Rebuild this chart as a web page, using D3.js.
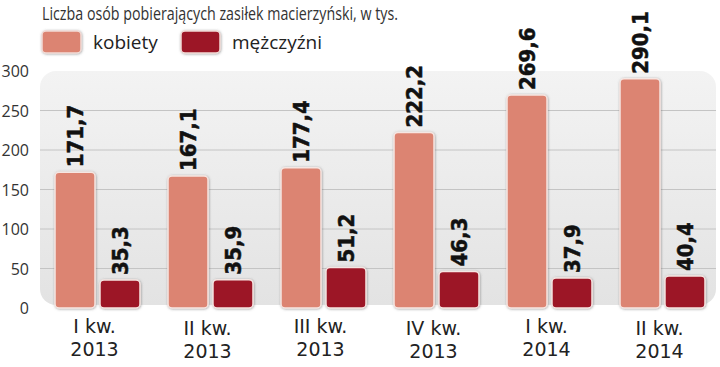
<!DOCTYPE html>
<html>
<head>
<meta charset="utf-8">
<script src="https://cdn.jsdelivr.net/npm/d3@7"></script>
<style>
  body { margin: 0; background: #fff; }
  svg { display: block; }
</style>
</head>
<body>
<div id="chart"></div>
<script>
// dane z wykresu
const quarters = [["I kw.", "2013"], ["II kw.", "2013"], ["III kw.", "2013"], ["IV kw.", "2013"], ["I kw.", "2014"], ["II kw.", "2014"]];
const kobiety = [171.7, 167.1, 177.4, 222.2, 269.6, 290.1];
const mezczyzni = [35.3, 35.9, 51.2, 46.3, 37.9, 40.4];
const yTicks = [0, 50, 100, 150, 200, 250, 300];
const seriesNames = ["kobiety", "mężczyźni"];
const colors = ["#dc8472", "#9c1527"];

const width = 720, height = 367;

const svg = d3.select("#chart").append("svg")
    .attr("width", width)
    .attr("height", height);

const defs = svg.append("defs");
const grad = defs.append("linearGradient").attr("id", "bg").attr("x1", 0).attr("y1", 0).attr("x2", 0).attr("y2", 1);
grad.append("stop").attr("offset", "0%").attr("stop-color", "#f3f3f3");
grad.append("stop").attr("offset", "100%").attr("stop-color", "#e3e3e3");

const shadow = defs.append("filter").attr("id", "sh").attr("x", "-20%").attr("y", "-20%").attr("width", "140%").attr("height", "140%");
shadow.append("feDropShadow").attr("dx", 0.5).attr("dy", 0.5).attr("stdDeviation", 0.8).attr("flood-color", "#666").attr("flood-opacity", 0.6);

const idx = quarters.map((d, i) => i);
const x = d3.scaleBand(idx, [41, 719]).paddingInner(0.248).paddingOuter(0.124);
const xs = d3.scaleBand([0, 1], [0, x.bandwidth()]).paddingInner(0.11);
const y = d3.scaleLinear([0, 300], [308, 71]);

// tło
svg.append("rect")
    .attr("x", 40).attr("y", y(300))
    .attr("width", 676).attr("height", y(0) - y(300) - 3)
    .attr("rx", 16)
    .attr("fill", "url(#bg)");

// linie siatki
svg.append("g").selectAll("line")
    .data(yTicks.filter(t => t > 0 && t < 300))
    .join("line")
    .attr("x1", 40).attr("x2", 716)
    .attr("y1", d => y(d)).attr("y2", d => y(d))
    .attr("stroke", "#c4c4c4").attr("stroke-width", 1);

// oś Y
svg.append("g").selectAll("text")
    .data(yTicks)
    .join("text")
    .attr("x", 29).attr("y", d => y(d) + 6)
    .attr("text-anchor", "end")
    .attr("font-family", "Open Sans, sans-serif")
    .attr("font-size", 16)
    .attr("fill", "#333")
    .text(d => d);

// słupki
const values = [kobiety, mezczyzni];
const groups = svg.append("g").selectAll("g")
    .data(idx)
    .join("g")
    .attr("transform", i => `translate(${x(i)},0)`);

groups.selectAll("rect")
    .data(i => values.map((s, k) => ({ k, v: s[i] })))
    .join("rect")
    .attr("x", d => xs(d.k))
    .attr("y", d => y(d.v))
    .attr("width", xs.bandwidth())
    .attr("height", d => y(0) - y(d.v))
    .attr("rx", 4)
    .attr("fill", d => colors[d.k])
    .attr("stroke", "#f6e6e2")
    .attr("stroke-width", 1.5)
    .attr("filter", "url(#sh)");

groups.selectAll("text.val")
    .data(i => values.map((s, k) => ({ k, v: s[i] })))
    .join("text")
    .attr("class", "val")
    .attr("transform", d => `translate(${xs(d.k) + xs.bandwidth() / 2 + 8},${y(d.v) - 5}) rotate(-90)`)
    .attr("font-family", "DejaVu Sans Condensed, DejaVu Sans, sans-serif")
    .attr("font-weight", "bold")
    .attr("font-size", 22)
    .attr("fill", "#111")
    .attr("stroke", "#111")
    .attr("stroke-width", 0.5)
    .text(d => d3.format(".1f")(d.v).replace(".", ","));

// etykiety osi X
const xlab = svg.append("g")
    .attr("font-family", "DejaVu Sans, sans-serif")
    .attr("font-size", 19)
    .attr("fill", "#222")
    .attr("text-anchor", "middle");
[0, 1].forEach(line => {
    xlab.append("g").selectAll("text")
        .data(idx)
        .join("text")
        .attr("x", i => x(i) + x.bandwidth() / 2 - 3)
        .attr("y", i => 333 + line * 23 + (i % 2 ? 2 : 0))
        .text(i => quarters[i][line]);
});

// tytuł
svg.append("text")
    .attr("x", 42).attr("y", 20)
    .attr("font-family", "Open Sans, sans-serif")
    .attr("font-size", 19)
    .attr("fill", "#333")
    .attr("textLength", 356)
    .attr("lengthAdjust", "spacingAndGlyphs")
    .text("Liczba osób pobierających zasiłek macierzyński, w tys.");

// legenda
const legendX = [42, 181];
const legend = svg.append("g").selectAll("g")
    .data(seriesNames)
    .join("g")
    .attr("transform", (d, i) => `translate(${legendX[i]},31)`);
legend.append("rect")
    .attr("width", 39).attr("height", 22)
    .attr("rx", 4)
    .attr("fill", (d, i) => colors[i])
    .attr("stroke", "#f2dcd7")
    .attr("stroke-width", 1.5)
    .attr("filter", "url(#sh)");
legend.append("text")
    .attr("x", 51).attr("y", 18)
    .attr("font-family", "Open Sans, sans-serif")
    .attr("font-size", 19)
    .attr("fill", "#222")
    .text(d => d);
</script>
</body>
</html>
